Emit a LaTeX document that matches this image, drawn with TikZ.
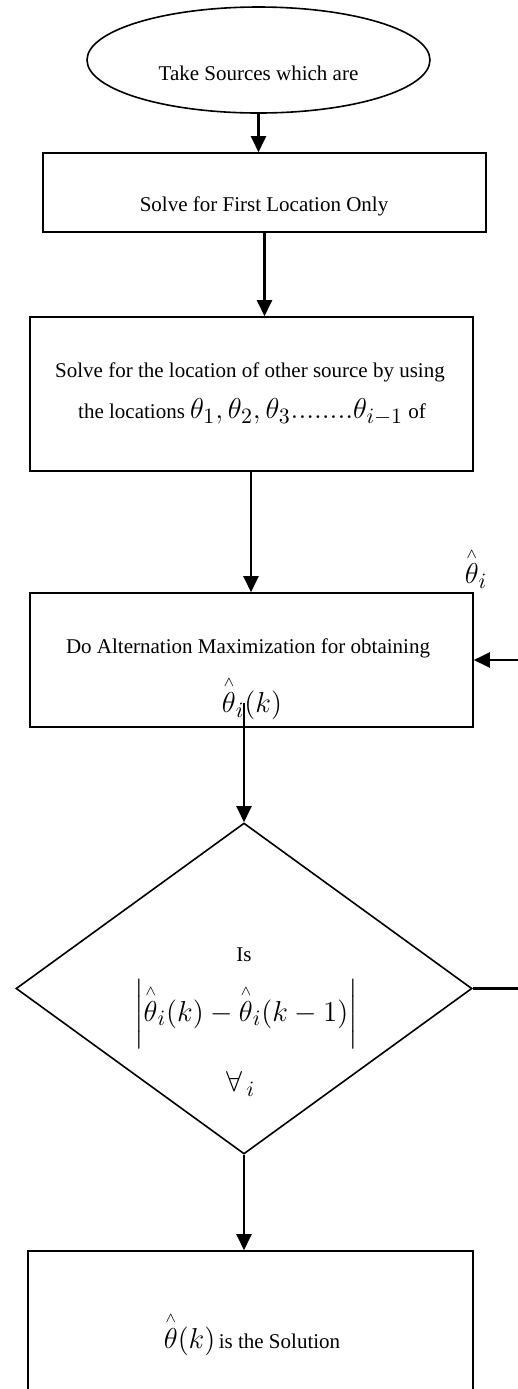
\documentclass[tikz,border=0pt]{standalone}
\usepackage{amsmath}
\usepackage{fontspec}
\setmainfont{Liberation Serif}
\usetikzlibrary{shapes.geometric,arrows.meta}
\tikzset{>={Triangle[length=8pt,width=7.5pt]}}
\tikzset{
	box/.style={draw, line width=0.8pt, rectangle, inner sep=0pt},
	flow/.style={->, line width=1.1pt},
	txt/.style={font=\fontsize{10.5}{12}\selectfont, inner sep=0pt},
}
% large math and the estimate with its caret
\newcommand{\bmath}[1]{{\fontsize{15}{15}\selectfont$#1$}}
\newcommand{\thhat}{\overset{\scriptscriptstyle\wedge}{\theta}}

\begin{document}
\begin{tikzpicture}[x=0.5pt, y=-0.5pt]
		\clip (0,0) rectangle (518,1389);
		
		%shapes
		\node [draw, line width=0.8pt, ellipse, minimum width=171.5pt, minimum height=53pt, inner sep=0pt] (start) at (258.5,60) {};
		\node [box, minimum width=221.5pt, minimum height=39.5pt] (first) at (264.5,192.5) {};
		\node [box, minimum width=221.5pt, minimum height=77pt] (other) at (251.5,394) {};
		\node [box, minimum width=221.5pt, minimum height=67pt] (alt) at (251.5,660) {};
		\node [draw, line width=0.8pt, diamond, minimum width=228pt, minimum height=165.5pt, inner sep=0pt] (check) at (244,988.5) {};
		\node [box, minimum width=222.5pt, minimum height=90pt] (sol) at (250.5,1341) {};
		
		%texts
		\node [txt] (tstart) at (258.5,73) {Take Sources which are};
		\node [txt] (tfirst) at (264,206) {Solve for First Location Only};
		\node [txt] (tother) at (250,372) {Solve for the location of other source by using};
		\node [txt] (tloc) at (252,412) {the locations \bmath{\theta_1,\theta_2,\theta_3........\theta_{i-1}} of};
		\node [txt] (talt) at (248,648) {Do Alternation Maximization for obtaining};
		\node [txt] (tk) at (252,698) {\bmath{\thhat_i(k)}};
		\node [txt] (tcorner) at (476,568) {\bmath{\thhat_i}};
		\node [txt] (tis) at (244,955) {Is};
		\node [txt] (tabs) at (246,1014) {\bmath{\bigg|\thhat_i(k)-\thhat_i(k-1)\bigg|}};
		\node [txt] (tall) at (241,1084) {\bmath{\forall_{\,i}}};
		\node [txt] (tsol) at (252,1334) {\bmath{\thhat(k)}\,is the Solution};
		
		%connectors
		\coordinate (out) at (244,703);
		\draw [flow] (start) -- (first.north -| start.south);
		\draw [flow] (first.south) -- (other.north -| first.south);
		\draw [flow] (251,471) -- (alt.north -| 251,471);
		\draw [flow] (out) -- (check.north);
		\draw [flow] (check.south) -- (sol.north -| check.south);
		\draw [flow] (check.east) -- ++(70,0) |- (alt.east);
		
\end{tikzpicture}
\end{document}
